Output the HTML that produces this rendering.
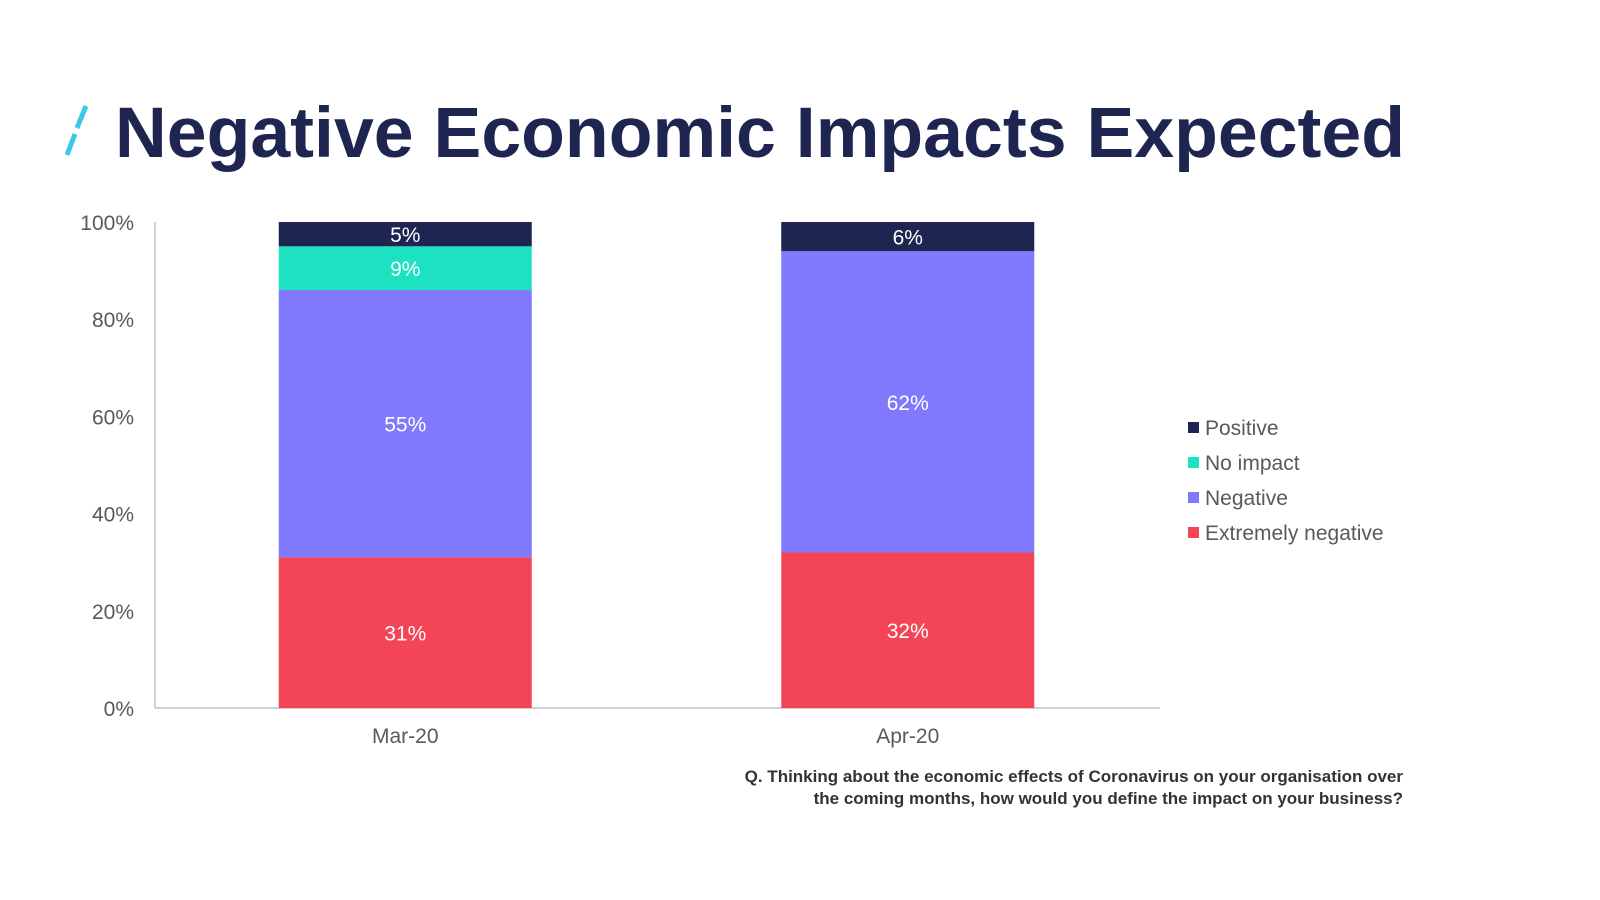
<!DOCTYPE html>
<html><head><meta charset="utf-8"><style>
body{margin:0;background:#fff;font-family:"Liberation Sans",Arial,sans-serif}
svg{display:block}
</style></head><body>
<svg width="1600" height="900">
<g>
<line x1="86" y1="106" x2="77" y2="128" stroke="#3ec8e6" stroke-width="5"/>
<line x1="75" y1="134" x2="67" y2="155" stroke="#3ec8e6" stroke-width="5"/>
</g>
<text x="115" y="157" font-size="71" font-weight="bold" fill="#1f2551" textLength="1290" lengthAdjust="spacingAndGlyphs">Negative Economic Impacts Expected</text>
<g id="axes"></g>
<g id="bars"></g>
<g id="legend"></g>
<text x="1403" y="782" text-anchor="end" font-size="17" font-weight="bold" fill="#333">Q. Thinking about the economic effects of Coronavirus on your organisation over</text>
<text x="1403" y="804" text-anchor="end" font-size="17" font-weight="bold" fill="#333">the coming months, how would you define the impact on your business?</text>
</svg>
<script>
const categories=["Mar-20","Apr-20"];
const seriesNames=["Extremely negative","Negative","No impact","Positive"];
const extremelyNegative=[31,32];
const negative=[55,62];
const noImpact=[9,0];
const positive=[5,6];
const yTicks=[0,20,40,60,80,100];
const colors=["#f44556","#8079fd","#1de2c2","#1f2551"];
const NS="http://www.w3.org/2000/svg";
const y0=708,y1=222,xL=155,xR=1160;
const y=v=>y0-(y0-y1)*v/100;
const bandW=(xR-xL)/categories.length;
const xc=i=>xL+bandW*(i+0.5)-1;
const bw=253;
function mk(tag,attrs,parent,text){const e=document.createElementNS(NS,tag);for(const k in attrs)e.setAttribute(k,attrs[k]);if(text!=null)e.textContent=text;parent.appendChild(e);return e;}
const axes=document.getElementById('axes');
let a=mk('line',{x1:xL,y1:y1,x2:xL,y2:y0,stroke:'#d0d0d0','stroke-width':2},axes);


a=mk('line',{x1:xL,y1:y0,x2:xR,y2:y0,stroke:'#d0d0d0','stroke-width':2},axes);


yTicks.forEach(t=>{const e=mk('text',{x:134,y:y(t)+8,'text-anchor':'end','font-size':21,fill:'#595959'},axes,t+'%');

});
categories.forEach((c,i)=>{const e=mk('text',{x:xc(i),y:743,'text-anchor':'middle','font-size':21,fill:'#595959'},axes,c);

});
const series=[extremelyNegative,negative,noImpact,positive];
const bars=document.getElementById('bars');
categories.forEach((c,i)=>{let cum=0;series.forEach((s,k)=>{const v=s[i];if(!v){return;}
const top=y(cum+v),bot=y(cum);
const r=mk('rect',{x:xc(i)-bw/2,y:top,width:bw,height:bot-top,fill:colors[k]},bars);


const t=mk('text',{x:xc(i),y:(top+bot)/2+8,'text-anchor':'middle','font-size':21,fill:'#fff'},bars,v+'%');


cum+=v;});});
const leg=document.getElementById('legend');
for(let k=3;k>=0;k--){const row=3-k;const ly=428+row*35;
const r=mk('rect',{x:1188,y:ly-6,width:11,height:11,fill:colors[k]},leg);


const t=mk('text',{x:1205,y:ly+7,'font-size':21,fill:'#595959'},leg,seriesNames[k]);

}
</script>
</body></html>
